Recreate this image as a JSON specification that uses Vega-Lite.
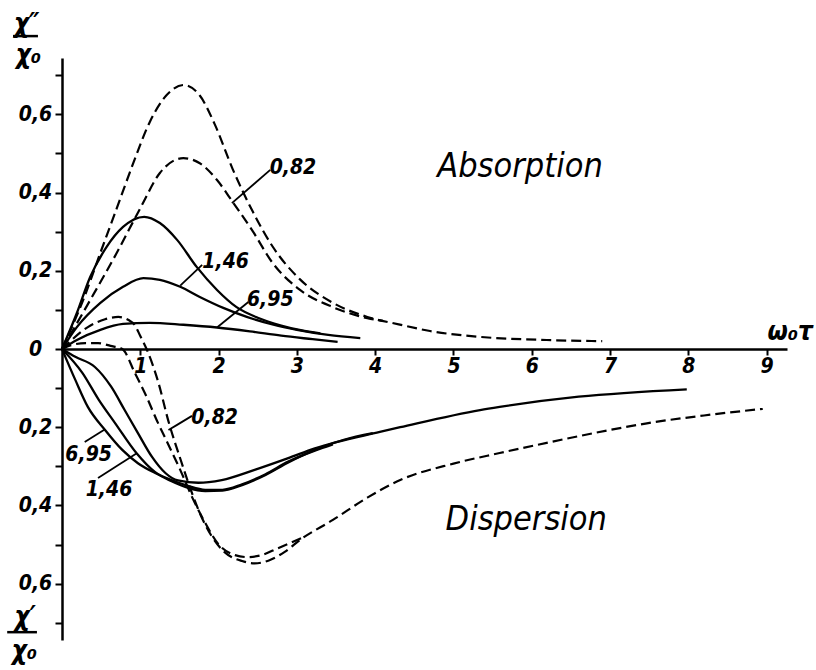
{
  "$schema": "https://vega.github.io/schema/vega-lite/v6.json",
  "width": 725,
  "height": 582,
  "autosize": {"type": "none"},
  "padding": {"left": 62, "top": 58, "right": 29, "bottom": 30},
  "background": "white",
  "config": {
    "view": {"stroke": null},
    "font": "Liberation Sans Narrow, DejaVu Sans Condensed, Liberation Sans, sans-serif"
  },
  "datasets": {
    "curves": [
      {"curve": "A-dashed-1", "x": 0, "y": 0},
      {"curve": "A-dashed-1", "x": 0.27, "y": 0.125},
      {"curve": "A-dashed-1", "x": 0.49, "y": 0.246},
      {"curve": "A-dashed-1", "x": 0.7, "y": 0.36},
      {"curve": "A-dashed-1", "x": 0.91, "y": 0.475},
      {"curve": "A-dashed-1", "x": 1.12, "y": 0.58},
      {"curve": "A-dashed-1", "x": 1.34, "y": 0.65},
      {"curve": "A-dashed-1", "x": 1.55, "y": 0.675},
      {"curve": "A-dashed-1", "x": 1.76, "y": 0.648},
      {"curve": "A-dashed-1", "x": 1.95, "y": 0.575},
      {"curve": "A-dashed-1", "x": 2.18, "y": 0.46},
      {"curve": "A-dashed-1", "x": 2.44, "y": 0.35},
      {"curve": "A-dashed-1", "x": 2.69, "y": 0.262},
      {"curve": "A-dashed-1", "x": 3.04, "y": 0.178},
      {"curve": "A-dashed-1", "x": 3.46, "y": 0.118},
      {"curve": "A-dashed-1", "x": 3.9, "y": 0.082},
      {"curve": "A-dashed-1", "x": 4.3, "y": 0.063},
      {"curve": "A-dashed-1", "x": 4.7, "y": 0.046},
      {"curve": "A-dashed-1", "x": 5.34, "y": 0.031},
      {"curve": "A-dashed-1", "x": 6.19, "y": 0.023},
      {"curve": "A-dashed-1", "x": 6.9, "y": 0.02},

      {"curve": "A-dashed-0.82", "x": 0, "y": 0},
      {"curve": "A-dashed-0.82", "x": 0.36, "y": 0.125},
      {"curve": "A-dashed-0.82", "x": 0.7, "y": 0.246},
      {"curve": "A-dashed-0.82", "x": 1.0, "y": 0.36},
      {"curve": "A-dashed-0.82", "x": 1.25, "y": 0.45},
      {"curve": "A-dashed-0.82", "x": 1.55, "y": 0.488},
      {"curve": "A-dashed-0.82", "x": 1.76, "y": 0.475},
      {"curve": "A-dashed-0.82", "x": 1.98, "y": 0.432},
      {"curve": "A-dashed-0.82", "x": 2.18, "y": 0.376},
      {"curve": "A-dashed-0.82", "x": 2.44, "y": 0.3},
      {"curve": "A-dashed-0.82", "x": 2.69, "y": 0.22},
      {"curve": "A-dashed-0.82", "x": 3.04, "y": 0.151},
      {"curve": "A-dashed-0.82", "x": 3.46, "y": 0.107},
      {"curve": "A-dashed-0.82", "x": 3.9, "y": 0.079},
      {"curve": "A-dashed-0.82", "x": 4.1, "y": 0.072},

      {"curve": "A-solid-1", "x": 0, "y": 0},
      {"curve": "A-solid-1", "x": 0.19, "y": 0.092},
      {"curve": "A-solid-1", "x": 0.36, "y": 0.184},
      {"curve": "A-solid-1", "x": 0.57, "y": 0.261},
      {"curve": "A-solid-1", "x": 0.78, "y": 0.312},
      {"curve": "A-solid-1", "x": 1.05, "y": 0.338},
      {"curve": "A-solid-1", "x": 1.25, "y": 0.322},
      {"curve": "A-solid-1", "x": 1.47, "y": 0.279},
      {"curve": "A-solid-1", "x": 1.72, "y": 0.21},
      {"curve": "A-solid-1", "x": 1.98, "y": 0.151},
      {"curve": "A-solid-1", "x": 2.23, "y": 0.107},
      {"curve": "A-solid-1", "x": 2.5, "y": 0.08},
      {"curve": "A-solid-1", "x": 2.8, "y": 0.06},
      {"curve": "A-solid-1", "x": 3.05, "y": 0.048},
      {"curve": "A-solid-1", "x": 3.3, "y": 0.04},

      {"curve": "A-solid-1.46", "x": 0, "y": 0},
      {"curve": "A-solid-1.46", "x": 0.19, "y": 0.056},
      {"curve": "A-solid-1.46", "x": 0.49, "y": 0.118},
      {"curve": "A-solid-1.46", "x": 0.78, "y": 0.159},
      {"curve": "A-solid-1.46", "x": 1.04, "y": 0.181},
      {"curve": "A-solid-1.46", "x": 1.25, "y": 0.177},
      {"curve": "A-solid-1.46", "x": 1.51, "y": 0.159},
      {"curve": "A-solid-1.46", "x": 1.76, "y": 0.133},
      {"curve": "A-solid-1.46", "x": 2.06, "y": 0.105},
      {"curve": "A-solid-1.46", "x": 2.36, "y": 0.082},
      {"curve": "A-solid-1.46", "x": 2.7, "y": 0.062},
      {"curve": "A-solid-1.46", "x": 3.0, "y": 0.049},
      {"curve": "A-solid-1.46", "x": 3.4, "y": 0.036},
      {"curve": "A-solid-1.46", "x": 3.81, "y": 0.028},

      {"curve": "A-solid-6.95", "x": 0, "y": 0},
      {"curve": "A-solid-6.95", "x": 0.19, "y": 0.023},
      {"curve": "A-solid-6.95", "x": 0.49, "y": 0.049},
      {"curve": "A-solid-6.95", "x": 0.78, "y": 0.064},
      {"curve": "A-solid-6.95", "x": 1.12, "y": 0.067},
      {"curve": "A-solid-6.95", "x": 1.55, "y": 0.062},
      {"curve": "A-solid-6.95", "x": 1.98, "y": 0.055},
      {"curve": "A-solid-6.95", "x": 2.4, "y": 0.045},
      {"curve": "A-solid-6.95", "x": 2.8, "y": 0.034},
      {"curve": "A-solid-6.95", "x": 3.2, "y": 0.025},
      {"curve": "A-solid-6.95", "x": 3.52, "y": 0.018},

      {"curve": "D-dashed-1", "x": 0, "y": 0},
      {"curve": "D-dashed-1", "x": 0.08, "y": 0.015},
      {"curve": "D-dashed-1", "x": 0.33, "y": 0.056},
      {"curve": "D-dashed-1", "x": 0.55, "y": 0.076},
      {"curve": "D-dashed-1", "x": 0.72, "y": 0.082},
      {"curve": "D-dashed-1", "x": 0.85, "y": 0.074},
      {"curve": "D-dashed-1", "x": 0.93, "y": 0.061},
      {"curve": "D-dashed-1", "x": 1.0, "y": 0.033},
      {"curve": "D-dashed-1", "x": 1.08, "y": 0},
      {"curve": "D-dashed-1", "x": 1.23, "y": -0.085},
      {"curve": "D-dashed-1", "x": 1.36, "y": -0.185},
      {"curve": "D-dashed-1", "x": 1.51, "y": -0.28},
      {"curve": "D-dashed-1", "x": 1.61, "y": -0.34},
      {"curve": "D-dashed-1", "x": 1.74, "y": -0.41},
      {"curve": "D-dashed-1", "x": 1.91, "y": -0.478},
      {"curve": "D-dashed-1", "x": 2.08, "y": -0.52},
      {"curve": "D-dashed-1", "x": 2.3, "y": -0.542},
      {"curve": "D-dashed-1", "x": 2.46, "y": -0.548},
      {"curve": "D-dashed-1", "x": 2.65, "y": -0.54},
      {"curve": "D-dashed-1", "x": 2.85, "y": -0.518},
      {"curve": "D-dashed-1", "x": 3.04, "y": -0.488},
      {"curve": "D-dashed-1", "x": 3.46, "y": -0.437},
      {"curve": "D-dashed-1", "x": 3.9, "y": -0.38},
      {"curve": "D-dashed-1", "x": 4.32, "y": -0.335},
      {"curve": "D-dashed-1", "x": 5.0, "y": -0.293},
      {"curve": "D-dashed-1", "x": 5.59, "y": -0.266},
      {"curve": "D-dashed-1", "x": 6.19, "y": -0.24},
      {"curve": "D-dashed-1", "x": 7.0, "y": -0.207},
      {"curve": "D-dashed-1", "x": 7.47, "y": -0.19},
      {"curve": "D-dashed-1", "x": 8.2, "y": -0.17},
      {"curve": "D-dashed-1", "x": 8.95, "y": -0.153},

      {"curve": "D-dashed-0.82", "x": 0, "y": 0},
      {"curve": "D-dashed-0.82", "x": 0.12, "y": 0.01},
      {"curve": "D-dashed-0.82", "x": 0.3, "y": 0.015},
      {"curve": "D-dashed-0.82", "x": 0.46, "y": 0.015},
      {"curve": "D-dashed-0.82", "x": 0.62, "y": 0.008},
      {"curve": "D-dashed-0.82", "x": 0.77, "y": 0},
      {"curve": "D-dashed-0.82", "x": 0.93, "y": -0.061},
      {"curve": "D-dashed-0.82", "x": 1.08, "y": -0.122},
      {"curve": "D-dashed-0.82", "x": 1.21, "y": -0.182},
      {"curve": "D-dashed-0.82", "x": 1.35, "y": -0.241},
      {"curve": "D-dashed-0.82", "x": 1.51, "y": -0.309},
      {"curve": "D-dashed-0.82", "x": 1.66, "y": -0.378},
      {"curve": "D-dashed-0.82", "x": 1.83, "y": -0.445},
      {"curve": "D-dashed-0.82", "x": 1.99, "y": -0.497},
      {"curve": "D-dashed-0.82", "x": 2.21, "y": -0.527},
      {"curve": "D-dashed-0.82", "x": 2.37, "y": -0.532},
      {"curve": "D-dashed-0.82", "x": 2.55, "y": -0.527},
      {"curve": "D-dashed-0.82", "x": 2.75, "y": -0.51},
      {"curve": "D-dashed-0.82", "x": 3.1, "y": -0.48},

      {"curve": "D-solid-1", "x": 0, "y": 0},
      {"curve": "D-solid-1", "x": 0.17, "y": -0.02},
      {"curve": "D-solid-1", "x": 0.42, "y": -0.046},
      {"curve": "D-solid-1", "x": 0.63, "y": -0.097},
      {"curve": "D-solid-1", "x": 0.8, "y": -0.156},
      {"curve": "D-solid-1", "x": 0.97, "y": -0.215},
      {"curve": "D-solid-1", "x": 1.15, "y": -0.276},
      {"curve": "D-solid-1", "x": 1.32, "y": -0.317},
      {"curve": "D-solid-1", "x": 1.48, "y": -0.336},
      {"curve": "D-solid-1", "x": 1.74, "y": -0.342},
      {"curve": "D-solid-1", "x": 2.04, "y": -0.335},
      {"curve": "D-solid-1", "x": 2.46, "y": -0.309},
      {"curve": "D-solid-1", "x": 2.89, "y": -0.279},
      {"curve": "D-solid-1", "x": 3.23, "y": -0.254},
      {"curve": "D-solid-1", "x": 4.06, "y": -0.212},
      {"curve": "D-solid-1", "x": 4.32, "y": -0.2},
      {"curve": "D-solid-1", "x": 5.34, "y": -0.156},
      {"curve": "D-solid-1", "x": 5.59, "y": -0.148},
      {"curve": "D-solid-1", "x": 6.6, "y": -0.122},
      {"curve": "D-solid-1", "x": 7.98, "y": -0.103},

      {"curve": "D-solid-1.46", "x": 0, "y": 0},
      {"curve": "D-solid-1.46", "x": 0.26, "y": -0.061},
      {"curve": "D-solid-1.46", "x": 0.47, "y": -0.13},
      {"curve": "D-solid-1.46", "x": 0.68, "y": -0.19},
      {"curve": "D-solid-1.46", "x": 0.95, "y": -0.266},
      {"curve": "D-solid-1.46", "x": 1.19, "y": -0.315},
      {"curve": "D-solid-1.46", "x": 1.4, "y": -0.338},
      {"curve": "D-solid-1.46", "x": 1.61, "y": -0.355},
      {"curve": "D-solid-1.46", "x": 1.83, "y": -0.363},
      {"curve": "D-solid-1.46", "x": 2.05, "y": -0.362},
      {"curve": "D-solid-1.46", "x": 2.3, "y": -0.348},
      {"curve": "D-solid-1.46", "x": 2.6, "y": -0.322},
      {"curve": "D-solid-1.46", "x": 2.89, "y": -0.29},
      {"curve": "D-solid-1.46", "x": 3.23, "y": -0.258},
      {"curve": "D-solid-1.46", "x": 3.6, "y": -0.232},
      {"curve": "D-solid-1.46", "x": 3.97, "y": -0.215},

      {"curve": "D-solid-6.95", "x": 0, "y": 0},
      {"curve": "D-solid-6.95", "x": 0.17, "y": -0.079},
      {"curve": "D-solid-6.95", "x": 0.33, "y": -0.148},
      {"curve": "D-solid-6.95", "x": 0.55, "y": -0.207},
      {"curve": "D-solid-6.95", "x": 0.77, "y": -0.258},
      {"curve": "D-solid-6.95", "x": 0.97, "y": -0.292},
      {"curve": "D-solid-6.95", "x": 1.19, "y": -0.317},
      {"curve": "D-solid-6.95", "x": 1.4, "y": -0.335},
      {"curve": "D-solid-6.95", "x": 1.61, "y": -0.35},
      {"curve": "D-solid-6.95", "x": 1.83, "y": -0.36},
      {"curve": "D-solid-6.95", "x": 2.05, "y": -0.36},
      {"curve": "D-solid-6.95", "x": 2.3, "y": -0.346},
      {"curve": "D-solid-6.95", "x": 2.6, "y": -0.32},
      {"curve": "D-solid-6.95", "x": 2.89, "y": -0.288},
      {"curve": "D-solid-6.95", "x": 3.23, "y": -0.26},
      {"curve": "D-solid-6.95", "x": 3.46, "y": -0.244}
    ],
    "leaders": [
      {"leader": "abs-0.82", "x": 2.17, "y": 0.373},
      {"leader": "abs-0.82", "x": 2.66, "y": 0.458},
      {"leader": "abs-1.46", "x": 1.51, "y": 0.162},
      {"leader": "abs-1.46", "x": 1.79, "y": 0.215},
      {"leader": "abs-6.95", "x": 1.98, "y": 0.055},
      {"leader": "abs-6.95", "x": 2.38, "y": 0.12},
      {"leader": "disp-0.82", "x": 1.36, "y": -0.207},
      {"leader": "disp-0.82", "x": 1.47, "y": -0.194},
      {"leader": "disp-0.82", "x": 1.66, "y": -0.171},
      {"leader": "disp-6.95", "x": 0.29, "y": -0.238},
      {"leader": "disp-6.95", "x": 0.55, "y": -0.205},
      {"leader": "disp-1.46", "x": 0.46, "y": -0.33},
      {"leader": "disp-1.46", "x": 0.96, "y": -0.266}
    ],
    "curveLabels": [
      {"text": "0,82", "x": 2.95, "y": 0.463},
      {"text": "1,46", "x": 2.09, "y": 0.222},
      {"text": "6,95", "x": 2.66, "y": 0.125},
      {"text": "0,82", "x": 1.95, "y": -0.176},
      {"text": "6,95", "x": 0.34, "y": -0.271},
      {"text": "1,46", "x": 0.6, "y": -0.361}
    ],
    "regionLabels": [
      {"text": "Absorption", "x": 5.85, "y": 0.44},
      {"text": "Dispersion", "x": 5.93, "y": -0.463}
    ],
    "axisSymbols": [
      {"text": "χ″", "x": -0.45, "y": 0.832},
      {"text": "χ₀", "x": -0.43, "y": 0.752},
      {"text": "χ′", "x": -0.47, "y": -0.686},
      {"text": "χ₀", "x": -0.48, "y": -0.772},
      {"text": "ω₀τ", "x": 9.3, "y": 0.043}
    ],
    "fractionBars": [
      {"x": -0.626, "x2": -0.307, "y": 0.8},
      {"x": -0.7, "x2": -0.32, "y": -0.724}
    ]
  },
  "encoding": {
    "x": {
      "field": "x",
      "type": "quantitative",
      "scale": {"domain": [0, 9.26], "nice": false, "zero": false},
      "axis": {
        "orient": "bottom",
        "offset": -291,
        "values": [1, 2, 3, 4, 5, 6, 7, 8, 9],
        "title": null,
        "grid": false,
        "domainColor": "black",
        "domainWidth": 2.5,
        "tickColor": "black",
        "tickWidth": 2,
        "tickSize": 6,
        "labelPadding": 0,
        "labelOverlap": false,
        "labelFontSize": 21,
        "labelFontStyle": "italic",
        "labelFontWeight": "bold",
        "labelColor": "black"
      }
    },
    "y": {
      "field": "y",
      "type": "quantitative",
      "scale": {"domain": [-0.744, 0.744], "nice": false, "zero": false},
      "axis": {
        "orient": "left",
        "values": [-0.7, -0.6, -0.5, -0.4, -0.3, -0.2, -0.1, 0, 0.1, 0.2, 0.3, 0.4, 0.5, 0.6, 0.7],
        "labelExpr": "datum.value == 0 ? '0' : (abs(round(datum.value * 10)) % 2 == 0 ? replace(format(abs(datum.value), '.1f'), '.', ',') : '')",
        "title": null,
        "grid": false,
        "domainColor": "black",
        "domainWidth": 2.5,
        "tickColor": "black",
        "tickWidth": 2,
        "tickSize": 7,
        "labelPadding": 20,
        "labelAlign": "center",
        "labelBaseline": "middle",
        "labelOverlap": false,
        "labelFontSize": 21,
        "labelFontStyle": "italic",
        "labelFontWeight": "bold",
        "labelColor": "black"
      }
    }
  },
  "layer": [
    {
      "data": {"name": "curves"},
      "transform": [{"filter": {"field": "curve", "oneOf": ["A-dashed-1", "A-dashed-0.82", "D-dashed-1", "D-dashed-0.82"]}}],
      "mark": {"type": "line", "color": "black", "strokeWidth": 2.2, "strokeDash": [10, 5], "interpolate": "monotone"},
      "encoding": {"detail": {"field": "curve"}}
    },
    {
      "data": {"name": "curves"},
      "transform": [{"filter": {"field": "curve", "oneOf": ["A-solid-1", "A-solid-1.46", "A-solid-6.95", "D-solid-1", "D-solid-1.46", "D-solid-6.95"]}}],
      "mark": {"type": "line", "color": "black", "strokeWidth": 2.3, "interpolate": "monotone"},
      "encoding": {"detail": {"field": "curve"}}
    },
    {
      "data": {"name": "leaders"},
      "mark": {"type": "line", "color": "black", "strokeWidth": 1.8},
      "encoding": {"detail": {"field": "leader"}}
    },
    {
      "data": {"name": "curveLabels"},
      "mark": {"type": "text", "color": "black", "fontSize": 21, "fontStyle": "italic", "fontWeight": "bold", "align": "center", "baseline": "middle"},
      "encoding": {"text": {"field": "text"}}
    },
    {
      "data": {"name": "regionLabels"},
      "mark": {"type": "text", "color": "black", "fontSize": 34, "fontStyle": "italic", "align": "center", "baseline": "alphabetic"},
      "encoding": {"text": {"field": "text"}}
    },
    {
      "data": {"name": "axisSymbols"},
      "mark": {"type": "text", "color": "black", "fontSize": 26, "fontStyle": "italic", "fontWeight": "bold", "align": "center", "baseline": "middle"},
      "encoding": {"text": {"field": "text"}}
    },
    {
      "data": {"name": "fractionBars"},
      "mark": {"type": "rule", "color": "black", "strokeWidth": 2.5},
      "encoding": {"x2": {"field": "x2"}}
    }
  ]
}
